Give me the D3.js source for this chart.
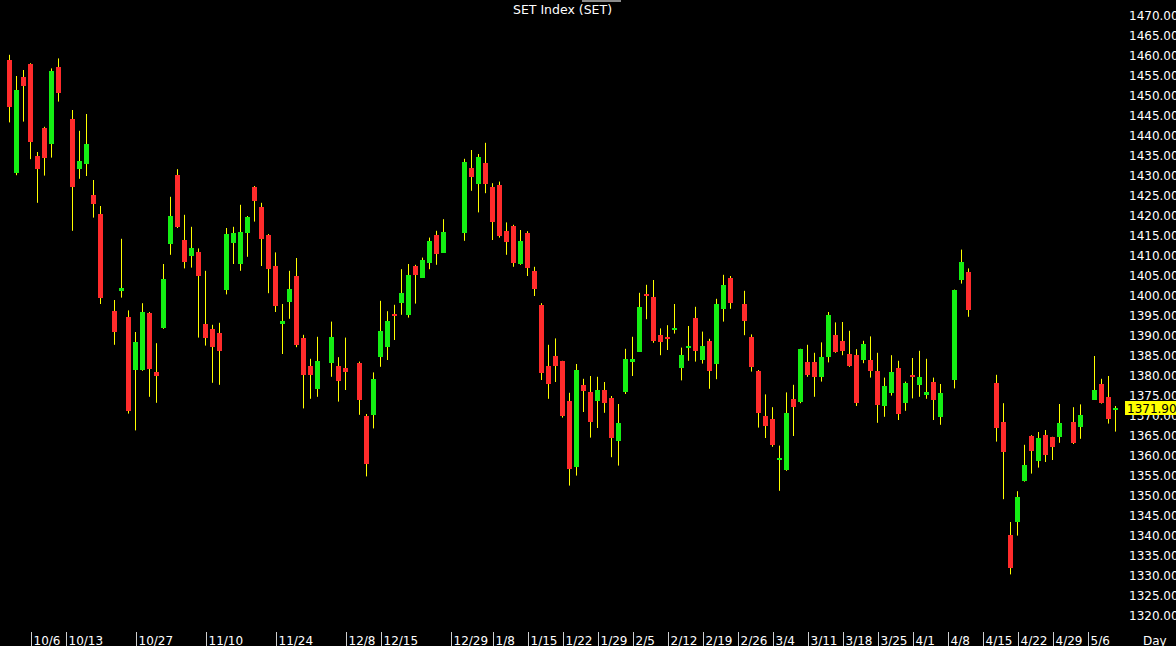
<!DOCTYPE html>
<html><head><meta charset="utf-8">
<script src="https://cdn.jsdelivr.net/npm/d3@7"></script>
<style>html,body{margin:0;padding:0;background:#000;overflow:hidden}svg{display:block}</style>
</head><body>
<svg id="chart" width="1176" height="646"></svg>
<script>
const title = "SET Index (SET)";
const dates = [
"2023-10-03","2023-10-04","2023-10-05","2023-10-06","2023-10-09","2023-10-10","2023-10-11","2023-10-12",
"2023-10-16","2023-10-17","2023-10-18","2023-10-19","2023-10-20",
"2023-10-24","2023-10-25","2023-10-26","2023-10-27","2023-10-30","2023-10-31",
"2023-11-01","2023-11-02","2023-11-03","2023-11-06","2023-11-07","2023-11-08","2023-11-09","2023-11-10",
"2023-11-13","2023-11-14","2023-11-15","2023-11-16","2023-11-17","2023-11-20","2023-11-21","2023-11-22","2023-11-23","2023-11-24","2023-11-27","2023-11-28","2023-11-29","2023-11-30",
"2023-12-01","2023-12-04",
"2023-12-06","2023-12-07","2023-12-08",
"2023-12-12","2023-12-13","2023-12-14","2023-12-15","2023-12-18","2023-12-19","2023-12-20","2023-12-21","2023-12-22","2023-12-25","2023-12-26","2023-12-27","2023-12-28",
"2024-01-02","2024-01-03","2024-01-04","2024-01-05","2024-01-08","2024-01-09","2024-01-10","2024-01-11","2024-01-12","2024-01-15","2024-01-16","2024-01-17","2024-01-18","2024-01-19","2024-01-22","2024-01-23","2024-01-24","2024-01-25","2024-01-26","2024-01-29","2024-01-30","2024-01-31",
"2024-02-01","2024-02-02","2024-02-05","2024-02-06","2024-02-07","2024-02-08","2024-02-09","2024-02-12","2024-02-13","2024-02-14","2024-02-15","2024-02-16","2024-02-19","2024-02-20","2024-02-21","2024-02-22","2024-02-23",
"2024-02-27","2024-02-28","2024-02-29",
"2024-03-01","2024-03-04","2024-03-05","2024-03-06","2024-03-07","2024-03-08","2024-03-11","2024-03-12","2024-03-13","2024-03-14","2024-03-15","2024-03-18","2024-03-19","2024-03-20","2024-03-21","2024-03-22","2024-03-25","2024-03-26","2024-03-27","2024-03-28","2024-03-29",
"2024-04-01","2024-04-02","2024-04-03","2024-04-04","2024-04-05",
"2024-04-09","2024-04-10","2024-04-11",
"2024-04-17","2024-04-18","2024-04-19","2024-04-22","2024-04-23","2024-04-24","2024-04-25","2024-04-26","2024-04-29","2024-04-30",
"2024-05-02","2024-05-03",
"2024-05-07","2024-05-08","2024-05-09","2024-05-10"
];
const open = [
1459.0,1430.8,1454.8,1458.0,1435.0,1442.1,1438.1,1457.3,
1444.2,1431.8,1433.0,1425.3,1420.6,
1396.3,1401.3,1394.8,1381.6,1381.6,1395.8,
1381.1,1392.0,1412.9,1430.3,1413.9,1410.1,1411.0,1393.0,
1391.8,1390.7,1401.6,1413.1,1408.1,1415.8,1427.3,1422.3,1415.2,1407.6,1393.1,1398.6,1405.1,1389.5,
1382.5,1376.8,
1383.3,1382.5,1382.0,
1383.3,1370.1,1370.3,1384.9,1387.3,1395.5,1398.1,1395.1,1407.6,1404.7,1408.3,1415.3,1410.9,
1415.8,1432.1,1428.1,1433.2,1427.2,1427.8,1416.3,1417.5,1408.0,1415.8,1406.3,1397.8,1382.6,1385.1,1383.7,1373.8,1357.1,1377.7,1375.9,1373.8,1376.5,1374.6,
1363.8,1376.1,1383.5,1386.0,1400.4,1399.7,1390.2,1389.8,1391.7,1382.1,1387.1,1394.5,1384.0,1388.7,1383.0,1396.8,1404.5,
1398.0,1389.7,1381.2,
1369.9,1369.3,1359.4,1356.6,1374.3,1373.4,1383.6,1383.5,1379.7,1384.8,1390.3,1388.7,1385.4,1385.2,1383.8,1383.9,1381.2,1372.6,1375.7,1382.0,1373.1,
1380.2,1377.8,1375.1,1378.5,1369.9,
1378.8,1404.1,1406.0,
1378.3,1368.5,1340.3,1343.6,1353.6,1365.0,1358.8,1365.2,1364.7,1364.8,
1368.5,1367.3,
1374.2,1378.1,1374.7,1371.3
];
const high = [
1460.3,1455.0,1456.5,1458.2,1436.0,1442.3,1456.9,1459.4,
1446.5,1441.3,1445.5,1429.0,1422.5,
1399.0,1414.3,1396.4,1391.0,1398.2,1396.0,
1388.2,1408.0,1424.8,1431.7,1420.3,1417.3,1411.9,1406.3,
1392.8,1393.3,1417.0,1417.3,1422.8,1420.0,1427.5,1423.3,1415.5,1410.9,1398.0,1406.3,1409.5,1390.3,
1384.3,1389.8,
1393.6,1384.7,1389.6,
1383.6,1370.5,1380.9,1398.8,1396.2,1397.8,1406.7,1408.0,1407.8,1409.6,1414.6,1416.3,1419.2,
1434.3,1436.5,1435.5,1438.3,1428.2,1428.6,1418.4,1417.8,1416.5,1416.2,1407.3,1398.2,1387.8,1389.4,1383.8,1375.8,1383.0,1379.3,1380.0,1379.8,1378.5,1375.0,
1373.0,1386.8,1389.8,1400.8,1402.8,1404.0,1391.9,1392.7,1398.0,1387.1,1392.5,1397.3,1391.1,1389.3,1399.3,1405.3,1405.0,
1401.3,1390.4,1381.5,
1375.4,1372.2,1362.6,1375.9,1377.8,1386.8,1387.8,1385.8,1388.4,1396.0,1393.4,1393.5,1391.3,1386.7,1388.8,1389.9,1385.8,1379.6,1385.2,1383.8,1378.6,
1384.5,1386.3,1384.3,1379.6,1378.0,
1401.6,1411.6,1406.9,
1380.3,1373.2,1343.5,1351.2,1362.8,1365.2,1366.0,1366.5,1364.8,1373.0,
1372.2,1372.9,
1385.0,1379.3,1380.0,1372.5
];
const low = [
1443.4,1430.2,1443.6,1434.2,1423.3,1430.1,1434.6,1448.6,
1416.3,1429.3,1430.0,1419.6,1398.0,
1387.8,1399.6,1370.6,1366.4,1381.3,1374.8,
1373.3,1391.8,1410.3,1417.0,1406.9,1407.1,1389.6,1387.6,
1378.3,1377.8,1400.4,1408.0,1406.3,1409.8,1418.6,1407.5,1400.7,1396.0,1385.5,1394.3,1387.2,1371.9,
1374.3,1374.8,
1379.8,1373.6,1376.5,
1370.3,1354.9,1366.9,1382.3,1384.0,1389.0,1395.3,1394.6,1398.1,1404.6,1406.7,1407.8,1410.9,
1413.8,1426.3,1420.9,1425.7,1414.0,1414.6,1410.3,1407.3,1407.8,1405.0,1400.0,1379.0,1374.3,1378.5,1369.6,1352.6,1355.1,1371.0,1364.6,1367.0,1370.8,1359.7,
1357.6,1375.5,1380.0,1386.0,1394.2,1388.3,1385.2,1386.5,1390.6,1378.9,1383.8,1383.6,1383.1,1376.8,1379.2,1393.6,1396.8,
1390.2,1381.1,1367.1,
1364.5,1362.3,1351.3,1356.3,1365.0,1373.2,1379.8,1374.8,1378.6,1383.4,1385.8,1385.2,1382.3,1372.5,1383.2,1379.6,1368.3,1369.8,1375.1,1369.0,1371.3,
1374.4,1374.8,1374.3,1369.0,1367.8,
1376.9,1403.1,1394.8,
1363.6,1349.2,1330.4,1340.1,1353.6,1355.6,1357.1,1358.5,1359.0,1363.3,
1363.0,1364.3,
1374.2,1373.1,1368.1,1366.1
];
const close = [
1447.3,1451.5,1452.6,1438.6,1431.8,1434.6,1456.3,1450.8,
1427.3,1433.8,1438.1,1423.1,1399.5,
1391.1,1402.0,1371.3,1388.5,1396.1,1381.8,
1380.0,1404.3,1420.0,1417.3,1408.3,1412.0,1405.1,1389.6,
1387.3,1386.1,1415.5,1415.7,1416.1,1419.8,1423.8,1414.3,1406.8,1397.6,1393.8,1401.8,1387.8,1380.3,
1380.3,1383.8,
1389.8,1378.8,1381.1,
1374.1,1358.1,1379.3,1391.3,1393.8,1395.0,1400.7,1405.2,1405.3,1409.1,1413.8,1410.6,1416.1,
1433.6,1429.8,1434.8,1428.0,1418.5,1415.0,1413.6,1408.3,1413.8,1407.1,1401.8,1380.8,1378.1,1382.6,1370.0,1356.7,1381.4,1376.3,1368.3,1376.5,1373.2,1364.6,
1368.2,1384.3,1384.2,1397.2,1400.0,1388.7,1388.5,1389.3,1392.0,1385.3,1387.5,1386.3,1387.5,1381.1,1397.9,1402.8,1398.2,
1393.8,1382.1,1370.8,
1367.5,1362.7,1359.5,1370.8,1372.3,1386.7,1380.3,1379.7,1384.8,1395.2,1386.1,1386.1,1382.5,1373.3,1387.9,1381.2,1372.6,1377.5,1381.0,1370.5,1378.2,
1379.6,1379.8,1375.9,1373.9,1375.8,
1401.4,1408.5,1396.4,
1367.1,1361.1,1332.1,1349.8,1357.7,1361.3,1364.5,1360.1,1362.1,1368.3,
1363.3,1370.2,
1376.6,1373.3,1369.3,1371.9
];
const yTickValues = [1470,1465,1460,1455,1450,1445,1440,1435,1430,1425,1420,1415,1410,1405,1400,1395,1390,1385,1380,1375,1370,1365,1360,1355,1350,1345,1340,1335,1330,1325,1320];
const xTickDates = ["2023-10-06","2023-10-13","2023-10-27","2023-11-10","2023-11-24","2023-12-08","2023-12-15","2023-12-29","2024-01-08","2024-01-15","2024-01-22","2024-01-29","2024-02-05","2024-02-12","2024-02-19","2024-02-26","2024-03-04","2024-03-11","2024-03-18","2024-03-25","2024-04-01","2024-04-08","2024-04-15","2024-04-22","2024-04-29","2024-05-06"];
const xTickLabels = ["10/6","10/13","10/27","11/10","11/24","12/8","12/15","12/29","1/8","1/15","1/22","1/29","2/5","2/12","2/19","2/26","3/4","3/11","3/18","3/25","4/1","4/8","4/15","4/22","4/29","5/6"];
const periodLabel = "Day";
const lastPrice = 1371.90;

const UP = "#14ee14", DOWN = "#ff2b2b", WICK = "#ffff00";
const svg = d3.select("#chart");
svg.append("rect").attr("width",1176).attr("height",646).attr("fill","#000");

const fmt = d3.timeFormat("%Y-%m-%d");
const parse = d3.timeParse("%Y-%m-%d");
// weekday calendar axis (holidays leave empty slots)
const calendar = d3.timeDay.range(parse(dates[0]), d3.timeDay.offset(parse(dates[dates.length-1]),1))
  .filter(d => d.getDay() !== 0 && d.getDay() !== 6).map(fmt);

const x = d3.scaleBand().domain(calendar).range([5.83, 5.83 + 7*calendar.length]).padding(0);
const y = d3.scaleLinear().domain([1320,1470]).range([616,16]);

const data = dates.map((d,i)=>({d, o:open[i], h:high[i], l:low[i], c:close[i]}));
const cx = d => Math.floor(x(d) + x.bandwidth()/2);

const g = svg.append("g");
g.selectAll("line.wick").data(data).join("line").attr("class","wick")
  .attr("x1", d=>cx(d.d)+0.5).attr("x2", d=>cx(d.d)+0.5)
  .attr("y1", d=>y(d.h)).attr("y2", d=>y(d.l))
  .attr("stroke", WICK).attr("stroke-width",1);
g.selectAll("rect.body").data(data).join("rect").attr("class","body")
  .attr("x", d=>cx(d.d)-2).attr("width",5)
  .attr("y", d=>Math.round(y(Math.max(d.o,d.c))))
  .attr("height", d=>Math.max(2, Math.round(Math.abs(y(d.o)-y(d.c)))))
  .attr("fill", d=> d.c >= d.o ? UP : DOWN);

// right axis labels
svg.append("g").selectAll("text").data(yTickValues).join("text")
  .attr("x",1129).attr("y",d=>y(d)).attr("dy","0.36em")
  .attr("fill","#fff").attr("font-family","DejaVu Sans, Verdana, sans-serif").attr("font-size",12)
  .text(d=>d3.format(".2f")(d));

// last price tag
const lp = svg.append("g");
lp.append("rect").attr("x",1125).attr("y",Math.round(y(lastPrice))-7).attr("width",52).attr("height",14).attr("fill","#ffff00");
lp.append("text").attr("x",1127).attr("y",y(lastPrice)).attr("dy","0.36em")
  .attr("fill","#000").attr("font-family","DejaVu Sans, Verdana, sans-serif").attr("font-size",12)
  .text(d3.format(".2f")(lastPrice));

// bottom axis
const xt = svg.append("g").selectAll("g").data(xTickDates).join("g")
  .attr("transform",(d)=>`translate(${cx(d)+1.5},0)`);
xt.append("line").attr("x1",0).attr("x2",0).attr("y1",632).attr("y2",646).attr("stroke","#cfcfcf");
xt.append("text").attr("x",2).attr("y",644.5).attr("fill","#fff")
  .attr("font-family","DejaVu Sans, Verdana, sans-serif").attr("font-size",12)
  .text((d,i)=>xTickLabels[i]);
svg.append("text").attr("x",1143).attr("y",644.5).attr("fill","#fff")
  .attr("font-family","DejaVu Sans, Verdana, sans-serif").attr("font-size",12).text(periodLabel);

// title
svg.append("rect").attr("x",582).attr("y",0).attr("width",39).attr("height",2).attr("fill","#8c8c8c");
svg.append("text").attr("x",562.5).attr("y",13.5).attr("text-anchor","middle").attr("fill","#fff")
  .attr("font-family","DejaVu Sans, Verdana, sans-serif").attr("font-size",12.5).text(title);
</script>
</body></html>
